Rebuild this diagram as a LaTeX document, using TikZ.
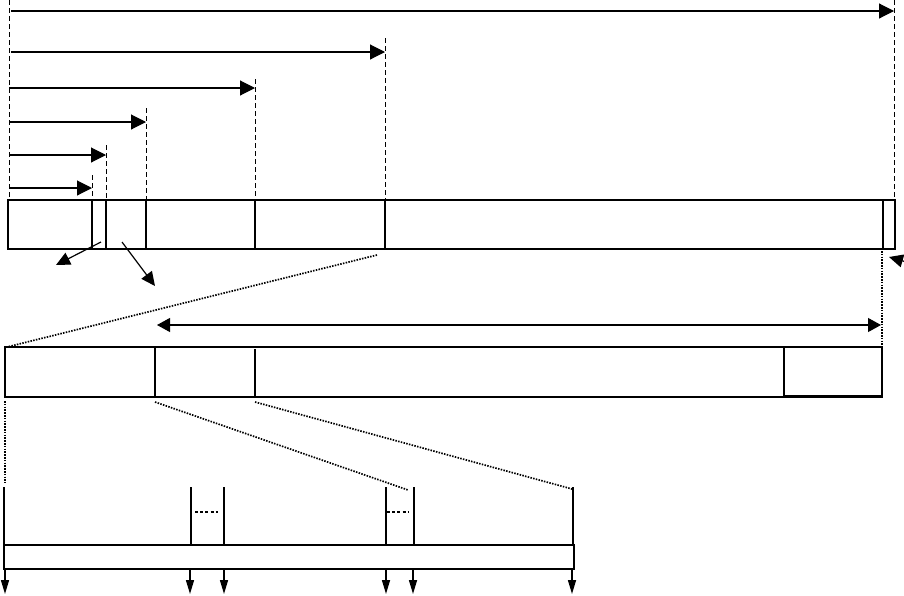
\documentclass[tikz,border=0pt]{standalone}
\usetikzlibrary{arrows.meta}
\tikzset{
  bar/.style={line width=1.8pt},
  divider/.style={line width=1.6pt},
  thickdiv/.style={line width=2.6pt},
  guide/.style={line width=1pt, dash pattern=on 5pt off 3pt},
  dots/.style={line width=1.7pt, dash pattern=on 1.5pt off 1.3pt},
  span/.style={line width=1.1pt, -{Triangle[length=15pt,width=15pt]}},
  spanboth/.style={line width=1.1pt, {Triangle[length=13pt,width=14pt]}-{Triangle[length=13pt,width=14pt]}},
  pointer/.style={line width=1.2pt, -{Triangle[length=14pt,width=13pt]}},
  outarrow/.style={line width=1.5pt, -{Triangle[length=14pt,width=8pt]}},
  field/.style={line width=1.6pt},
  ellip/.style={line width=2pt, dash pattern=on 3pt off 2.2pt}
}
\begin{document}
\begin{tikzpicture}[x=1pt,y=-1pt]
\useasboundingbox (0,0) rectangle (904,595);
% ---------- top bar ----------
\draw[bar] (8,200) rectangle (895,249);
\foreach \xx in {92,146,255,385,883} \draw[divider] (\xx,200) -- (\xx,249);
\draw[thickdiv] (106,200) -- (106,249);
% dashed guides
\draw[guide] (9,0) -- (9,200);
\draw[guide] (92,175) -- (92,200);
\draw[guide] (106,145) -- (106,200);
\draw[guide] (146,108) -- (146,200);
\draw[guide] (255,79) -- (255,200);
\draw[guide] (385,38) -- (385,200);
\draw[guide] (894,0) -- (894,200);
% spans
\coordinate (s1a) at (11,11);  \coordinate (s1b) at (894,11);
\coordinate (s2a) at (11,52);  \coordinate (s2b) at (385,52);
\coordinate (s3a) at (9,88);   \coordinate (s3b) at (255,88);
\coordinate (s4a) at (9,122);  \coordinate (s4b) at (146,122);
\coordinate (s5a) at (9,155);  \coordinate (s5b) at (106,155);
\coordinate (s6a) at (9,188);  \coordinate (s6b) at (92,188);
\draw[span] (s1a) -- (s1b);
\draw[span] (s2a) -- (s2b);
\draw[span] (s3a) -- (s3b);
\draw[span] (s4a) -- (s4b);
\draw[span] (s5a) -- (s5b);
\draw[span] (s6a) -- (s6b);
% pointers below top bar
\coordinate (p1a) at (101,242); \coordinate (p1b) at (56,265);
\coordinate (p2a) at (122,242); \coordinate (p2b) at (155,286);
\draw[pointer] (p1a) -- (p1b);
\draw[pointer] (p2a) -- (p2b);
\coordinate (p3a) at (910,263); \coordinate (p3b) at (889,257);
\draw[pointer] (p3a) -- (p3b);
% ---------- zoom lines to middle bar ----------
\draw[dots] (377,255) -- (7,347);
\draw[dots] (882,251) -- (882,345);
% ---------- middle bar ----------
\draw[bar] (5,347) rectangle (882,397);
\draw[divider] (155,347) -- (155,397);
\draw[line width=1.1pt] (255,349) -- (255,397);
\draw[line width=2.4pt] (784,347) rectangle (882,396);
\coordinate (da) at (157,325); \coordinate (db) at (881,325);
\draw[spanboth] (da) -- (db);
% ---------- zoom lines to bottom bar ----------
\draw[dots] (5,401) -- (5,483);
\draw[dots] (155,402) -- (408,490);
\draw[dots] (255,402) -- (572,489);
% ---------- bottom bar ----------
\draw[bar] (4,545) rectangle (574,569);
\foreach \xx in {4,191,224,386,414,573} \draw[field] (\xx,487) -- (\xx,545);
\draw[ellip] (195,512) -- (218,512);
\draw[ellip] (387,512) -- (409,512);
\foreach \xx in {5,190,224,386,413,572} \draw[outarrow] (\xx,569) -- (\xx,594);
\end{tikzpicture}
\end{document}
